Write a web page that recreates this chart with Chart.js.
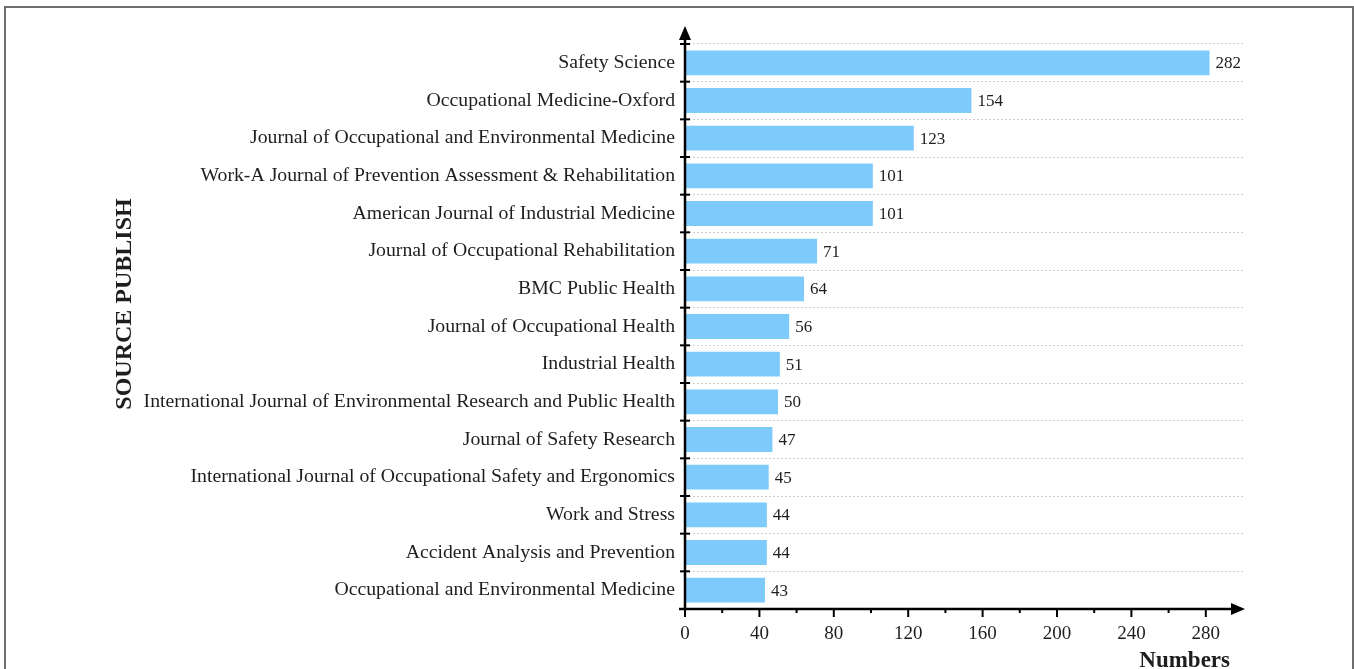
<!DOCTYPE html>
<html lang="en">
<head>
<meta charset="UTF-8" />
<title>Source publish</title>
<style>
    body {
        margin: 0;
        background: #fff;
    }

    .wrap {
        position: relative;
        width: 1354px;
        height: 669px;
        overflow: hidden;
    }

    .frame {
        position: absolute;
        left: 4px;
        top: 6px;
        width: 1346px;
        height: 720px;
        border: 2px solid #6e6e6e;
        border-bottom: none;
        pointer-events: none;
    }
</style>
<script src="https://cdn.jsdelivr.net/npm/chart.js"></script>
</head>
<body>
<div class="wrap">
    <canvas id="grafico" width="1354" height="669"></canvas>
    <div class="frame"></div>
</div>

<script>
    const journals = [
        "Safety Science",
        "Occupational Medicine-Oxford",
        "Journal of Occupational and Environmental Medicine",
        "Work-A Journal of Prevention Assessment & Rehabilitation",
        "American Journal of Industrial Medicine",
        "Journal of Occupational Rehabilitation",
        "BMC Public Health",
        "Journal of Occupational Health",
        "Industrial Health",
        "International Journal of Environmental Research and Public Health",
        "Journal of Safety Research",
        "International Journal of Occupational Safety and Ergonomics",
        "Work and Stress",
        "Accident Analysis and Prevention",
        "Occupational and Environmental Medicine"
    ];
    const articleCounts = [282, 154, 123, 101, 101, 71, 64, 56, 51, 50, 47, 45, 44, 44, 43];
    const xLabelTicks = [0, 40, 80, 120, 160, 200, 240, 280];

    const serif = '"Liberation Serif", "Times New Roman", serif';
    const textColor = '#1e1e1e';

    // value at the end of each bar
    const valueLabels = {
        id: 'valueLabels',
        afterDatasetsDraw(chart) {
            const ctx = chart.ctx;
            const meta = chart.getDatasetMeta(0);
            ctx.save();
            ctx.font = '17px ' + serif;
            ctx.fillStyle = textColor;
            ctx.textAlign = 'left';
            ctx.textBaseline = 'middle';
            meta.data.forEach((bar, i) => {
                ctx.fillText(articleCounts[i], bar.x + 6, bar.y + 1);
            });
            ctx.restore();
        }
    };

    // axis lines with arrows, tick marks, axis titles
    const axesArrows = {
        id: 'axesArrows',
        afterDraw(chart) {
            const ctx = chart.ctx;
            const area = chart.chartArea;
            const xs = chart.scales.x;
            const ys = chart.scales.y;
            const x0 = xs.getPixelForValue(0);
            const yB = area.bottom;

            ctx.save();
            ctx.strokeStyle = '#000';
            ctx.fillStyle = '#000';
            ctx.lineWidth = 2.5;

            // y axis
            ctx.beginPath();
            ctx.moveTo(x0, yB);
            ctx.lineTo(x0, 36);
            ctx.stroke();
            ctx.beginPath();
            ctx.moveTo(x0, 26);
            ctx.lineTo(x0 - 6, 40);
            ctx.lineTo(x0 + 6, 40);
            ctx.closePath();
            ctx.fill();

            // x axis
            const xEnd = area.right + 2;
            ctx.beginPath();
            ctx.moveTo(x0 - 6, yB);
            ctx.lineTo(xEnd - 10, yB);
            ctx.stroke();
            ctx.beginPath();
            ctx.moveTo(xEnd, yB);
            ctx.lineTo(xEnd - 14, yB - 6);
            ctx.lineTo(xEnd - 14, yB + 6);
            ctx.closePath();
            ctx.fill();

            // y ticks at category boundaries
            ctx.lineWidth = 2;
            const step = ys.getPixelForValue(1) - ys.getPixelForValue(0);
            for (let i = 0; i < journals.length; i++) {
                const y = ys.getPixelForValue(i) - step / 2;
                ctx.beginPath();
                ctx.moveTo(x0 - 5, y);
                ctx.lineTo(x0 + 5, y);
                ctx.stroke();
            }

            // x ticks, long at labels, short in between
            xs.ticks.forEach(t => {
                if (t.value > 280) return;
                const x = xs.getPixelForValue(t.value);
                const len = xLabelTicks.includes(t.value) ? 8 : 4;
                ctx.beginPath();
                ctx.moveTo(x, yB);
                ctx.lineTo(x, yB + len);
                ctx.stroke();
            });

            // titles
            ctx.fillStyle = textColor;
            ctx.font = 'bold 23px ' + serif;
            ctx.textAlign = 'right';
            ctx.textBaseline = 'alphabetic';
            ctx.fillText('Numbers', 1230, 667);

            ctx.save();
            ctx.translate(125, 304);
            ctx.rotate(-Math.PI / 2);
            ctx.font = 'bold 24px ' + serif;
            ctx.textAlign = 'center';
            ctx.textBaseline = 'middle';
            ctx.fillText('SOURCE PUBLISH', 0, 0);
            ctx.restore();

            ctx.restore();
        }
    };

    new Chart(document.getElementById('grafico'), {
        type: 'bar',
        data: {
            labels: journals,
            datasets: [{
                data: articleCounts,
                backgroundColor: '#7ecbfb',
                borderWidth: 0,
                barPercentage: 0.66,
                categoryPercentage: 1
            }]
        },
        options: {
            indexAxis: 'y',
            responsive: false,
            animation: false,
            layout: {
                padding: { top: 44, right: 111, bottom: 0, left: 0 }
            },
            plugins: {
                legend: { display: false },
                tooltip: { enabled: false }
            },
            scales: {
                x: {
                    type: 'linear',
                    min: 0,
                    max: 300,
                    grid: { display: false, drawTicks: false },
                    border: { display: false },
                    ticks: {
                        stepSize: 20,
                        autoSkip: false,
                        maxRotation: 0,
                        padding: 14,
                        color: textColor,
                        font: { family: serif, size: 19 },
                        callback: v => xLabelTicks.includes(v) ? v : ''
                    },
                    afterFit: s => { s.height = 60; }
                },
                y: {
                    grid: {
                        offset: true,
                        drawTicks: false,
                        color: '#cdcdcd',
                        lineWidth: 1
                    },
                    border: { display: false, dash: [2, 2] },
                    ticks: {
                        autoSkip: false,
                        padding: 10,
                        color: textColor,
                        font: { family: serif, size: 19.75 }
                    },
                    afterFit: s => { s.width = 685; }
                }
            }
        },
        plugins: [valueLabels, axesArrows]
    });
</script>
</body>
</html>
